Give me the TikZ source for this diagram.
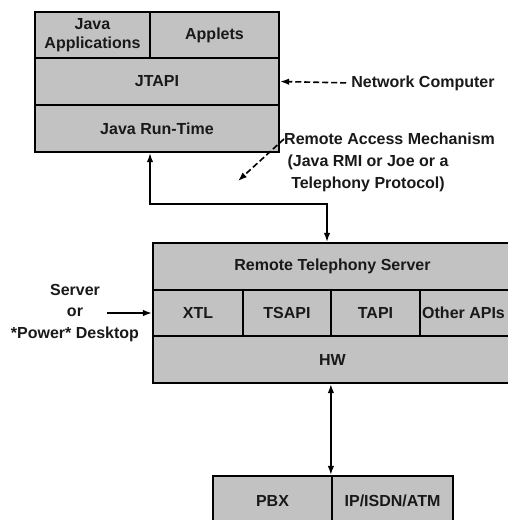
\documentclass[tikz,border=0pt]{standalone}
\usepackage{fontspec}
\setmainfont{Liberation Sans}
\usetikzlibrary{arrows.meta}
\begin{document}
\begin{tikzpicture}[x=1pt,y=-1pt,
  cell/.style={draw=black, line width=2.2pt, fill=black!24, inner sep=0pt, font=\fontsize{16}{19}\selectfont\bfseries, align=center, text=black!90},
  lbl/.style={inner sep=0pt, font=\fontsize{16}{21.5}\selectfont\bfseries, align=center, text=black!90},
  conn/.style={line width=1.6pt, draw=black},
  tip/.style={-{Latex[length=9pt,width=6.5pt]}},
  dtip/.style={{Latex[length=9pt,width=6.5pt]}-{Latex[length=9pt,width=6.5pt]}}]
\useasboundingbox (0,0) rectangle (507,520);
% client stack
\node[cell, minimum width=115pt, minimum height=46pt] (japp) at (92.5,35) {Java\\Applications};
\node[cell, minimum width=129pt, minimum height=46pt] (applets) at (214.5,35) {Applets};
\node[cell, minimum width=244pt, minimum height=47pt] (jtapi) at (157,81.5) {JTAPI};
\node[cell, minimum width=244pt, minimum height=47pt] (jrt) at (157,128.5) {Java Run-Time};
% labels
\node[lbl] (nc) at (423,83) {Network Computer};
\draw[conn, tip, dash pattern=on 6pt off 3pt, shorten <=5pt] (nc.west) -- (jtapi.east);
\node[lbl, anchor=west] (ram1) at (284,139) {Remote Access Mechanism};
\node[lbl] (ram2) at (368,162) {(Java RMI or Joe or a};
\node[lbl] (ram3) at (368,184) {Telephony Protocol)};
\coordinate (ramend) at (238,181);
\draw[conn, tip, dash pattern=on 6pt off 3pt] (ram1.west) -- (ramend);
% server
\node[cell, minimum width=359pt, minimum height=47pt] (rts) at (332.5,266.5) {Remote Telephony Server};
\node[cell, minimum width=90pt, minimum height=46pt] (xtl) at (198,313) {XTL};
\node[cell, minimum width=88pt, minimum height=46pt] (tsapi) at (287,313) {TSAPI};
\node[cell, minimum width=89pt, minimum height=46pt] (tapi) at (375.5,313) {TAPI};
\node[cell, minimum width=92pt, minimum height=46pt] (other) at (466,313) {};
\node[lbl, anchor=west] (othertxt) at (422,313) {Other APIs};
\node[cell, minimum width=359pt, minimum height=47pt] (hw) at (332.5,359.5) {HW};
% link client-server
\coordinate (b1) at (150,204);
\coordinate (b2) at (327,204);
\draw[conn, dtip] (jrt.south -| b1) -- (b1) -- (b2) -- (b2 |- rts.north);
% server label
\node[lbl] (srv) at (75,313) {Server\\or\\*Power* Desktop};
\coordinate (srvstart) at (107,313);
\draw[conn, tip] (srvstart) -- (xtl.west);
% bottom
\node[cell, minimum width=119pt, minimum height=50pt] (pbx) at (272.5,501) {PBX};
\node[cell, minimum width=121pt, minimum height=50pt] (ipatm) at (392.5,501) {IP/ISDN/ATM};
\draw[conn, dtip] (hw.south -| ipatm.west) -- (ipatm.north west);
\end{tikzpicture}
\end{document}
